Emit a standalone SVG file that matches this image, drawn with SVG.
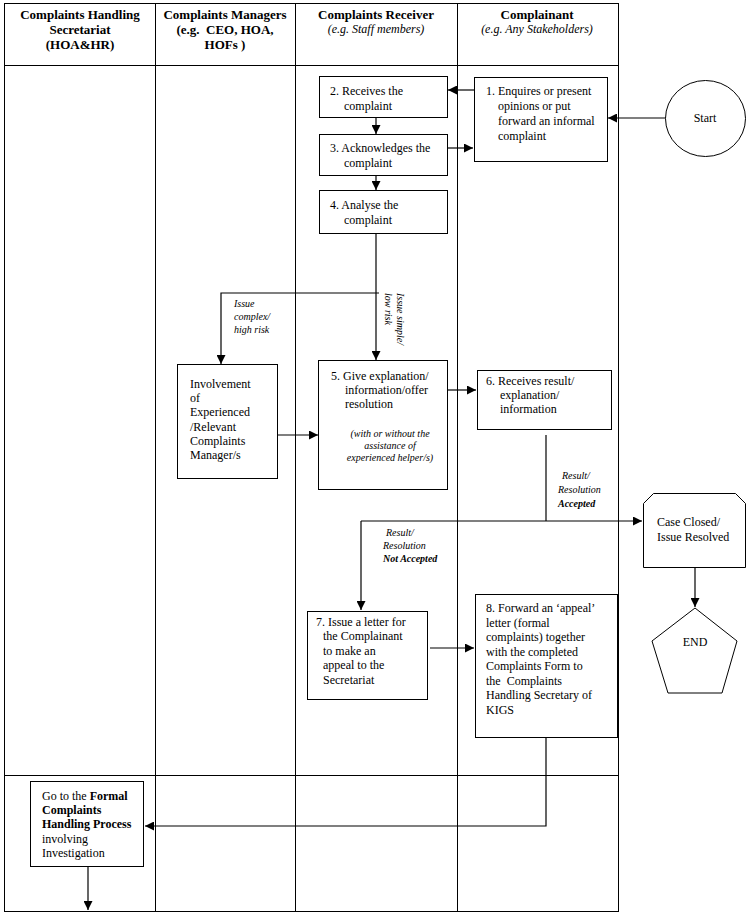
<svg xmlns="http://www.w3.org/2000/svg" width="755" height="917" viewBox="0 0 755 917">
<defs>
<marker id="ah" viewBox="0 0 10 10" refX="10" refY="5" markerWidth="9" markerHeight="9" markerUnits="userSpaceOnUse" orient="auto">
<path d="M0,0 L10,5 L0,10 Z" fill="#000"/>
</marker>
</defs>
<style>
text{font-family:'Liberation Serif','Times New Roman',serif;font-size:12px;fill:#000}
.h{font-weight:bold;font-size:13px;text-anchor:middle}
.hi{font-style:italic;font-size:12px;text-anchor:middle}
.lbl{font-style:italic;font-size:10px}
.box{fill:#fff;stroke:#000;stroke-width:1}
.grid{fill:none;stroke:#000;stroke-width:1}
.conn{fill:none;stroke:#000;stroke-width:1.2}
.arr{fill:none;stroke:#000;stroke-width:1.2;marker-end:url(#ah)}
</style>
<rect width="755" height="917" fill="#fff"/>
<g id="lanes">
<rect class="grid" x="4.5" y="3.5" width="614" height="908"/>
<line class="grid" x1="155.5" y1="3.5" x2="155.5" y2="911.5"/>
<line class="grid" x1="295.5" y1="3.5" x2="295.5" y2="911.5"/>
<line class="grid" x1="457.5" y1="3.5" x2="457.5" y2="911.5"/>
<line class="grid" x1="4.5" y1="65.5" x2="618.5" y2="65.5"/>
<line class="grid" x1="4.5" y1="775.5" x2="618.5" y2="775.5"/>
<text class="h" x="80" y="19">Complaints Handling</text>
<text class="h" x="80" y="34">Secretariat</text>
<text class="h" x="80" y="49">(HOA&amp;HR)</text>
<text class="h" x="225" y="19">Complaints Managers</text>
<text class="h" x="225" y="34" xml:space="preserve">(e.g.  CEO, HOA,</text>
<text class="h" x="225" y="49">HOFs )</text>
<text class="h" x="376" y="19">Complaints Receiver</text>
<text class="hi" x="376" y="33">(e.g. Staff members)</text>
<text class="h" x="537" y="19">Complainant</text>
<text class="hi" x="537" y="33">(e.g. Any Stakeholders)</text>
</g>
<g id="connectors">
<line class="arr" x1="666" y1="118" x2="608" y2="118"/>
<line class="arr" x1="474" y1="90" x2="448" y2="90"/>
<line class="arr" x1="376" y1="117" x2="376" y2="134"/>
<line class="arr" x1="447" y1="148" x2="473" y2="148"/>
<line class="arr" x1="376" y1="175" x2="376" y2="190"/>
<line class="arr" x1="376" y1="233" x2="376" y2="360"/>
<polyline class="arr" points="379,293 221,293 221,364"/>
<line class="arr" x1="277" y1="435" x2="318" y2="435"/>
<line class="arr" x1="447" y1="390" x2="476" y2="390"/>
<line class="conn" x1="546" y1="435" x2="546" y2="521"/>
<line class="arr" x1="361" y1="521" x2="642" y2="521"/>
<line class="arr" x1="361" y1="521" x2="361" y2="610"/>
<line class="arr" x1="695" y1="567" x2="695" y2="607"/>
<line class="arr" x1="430" y1="648" x2="474" y2="648"/>
<polyline class="arr" points="546,737 546,826 145,826"/>
<line class="arr" x1="88" y1="866" x2="88" y2="910"/>
<text class="lbl" x="234" y="307">Issue</text>
<text class="lbl" x="234" y="320">complex/</text>
<text class="lbl" x="234" y="333">high risk</text>
<text class="lbl" transform="translate(397,293) rotate(90)">Issue simple/</text>
<text class="lbl" transform="translate(385,293) rotate(90)">low risk</text>
<text class="lbl" x="562" y="479">Result/</text>
<text class="lbl" x="558" y="493">Resolution</text>
<text class="lbl" x="558" y="507" font-weight="bold">Accepted</text>
<text class="lbl" x="386" y="536">Result/</text>
<text class="lbl" x="383" y="549">Resolution</text>
<text class="lbl" x="383" y="562" font-weight="bold">Not Accepted</text>
</g>
<g id="start">
<ellipse class="box" cx="705.5" cy="118.5" rx="40" ry="38"/>
<text x="705" y="122" text-anchor="middle">Start</text>
</g>
<g id="step1">
<rect class="box" x="474.5" y="77.5" width="133" height="84"/>
<text x="486" y="95">1. Enquires or present</text>
<text x="498" y="110">opinions or put</text>
<text x="498" y="125">forward an informal</text>
<text x="498" y="140">complaint</text>
</g>
<g id="step2">
<rect class="box" x="319.5" y="76.5" width="128" height="41"/>
<text x="330" y="95">2. Receives the</text>
<text x="344" y="110">complaint</text>
</g>
<g id="step3">
<rect class="box" x="319.5" y="134.5" width="128" height="41"/>
<text x="330" y="152">3. Acknowledges the</text>
<text x="344" y="167">complaint</text>
</g>
<g id="step4">
<rect class="box" x="319.5" y="190.5" width="128" height="43"/>
<text x="330" y="209">4. Analyse the</text>
<text x="344" y="224">complaint</text>
</g>
<g id="involvement">
<rect class="box" x="177.5" y="364.5" width="100" height="114"/>
<text x="190" y="388" font-size="12.5">Involvement</text>
<text x="190" y="402" font-size="12.5">of</text>
<text x="190" y="416" font-size="12.5">Experienced</text>
<text x="190" y="431" font-size="12.5">/Relevant</text>
<text x="190" y="445" font-size="12.5">Complaints</text>
<text x="190" y="459" font-size="12.5">Manager/s</text>
</g>
<g id="step5">
<rect class="box" x="318.5" y="360.5" width="129" height="129"/>
<text x="331" y="380">5. Give explanation/</text>
<text x="345" y="394">information/offer</text>
<text x="345" y="408">resolution</text>
<text class="lbl" x="390" y="437" text-anchor="middle">(with or without the</text>
<text class="lbl" x="390" y="449" text-anchor="middle">assistance of</text>
<text class="lbl" x="390" y="461" text-anchor="middle">experienced helper/s)</text>
</g>
<g id="step6">
<rect class="box" x="477.5" y="370.5" width="134" height="59"/>
<text x="486" y="385">6. Receives result/</text>
<text x="500" y="399">explanation/</text>
<text x="500" y="413">information</text>
</g>
<g id="closed">
<polygon class="box" points="653.5,493.5 735.5,493.5 745.5,503.5 745.5,567.5 643.5,567.5 643.5,503.5"/>
<text x="657" y="526">Case Closed/</text>
<text x="657" y="541">Issue Resolved</text>
</g>
<g id="end">
<polygon class="box" points="695,608 737,641 722,693 668,693 652,641"/>
<text x="695" y="646" text-anchor="middle" font-size="13">END</text>
</g>
<g id="step7">
<rect class="box" x="307.5" y="611.5" width="120" height="88"/>
<text x="316" y="626">7. Issue a letter for</text>
<text x="323" y="640">the Complainant</text>
<text x="323" y="655">to make an</text>
<text x="323" y="669">appeal to the</text>
<text x="323" y="684">Secretariat</text>
</g>
<g id="step8">
<rect class="box" x="475.5" y="594.5" width="142" height="143"/>
<text x="486" y="612">8. Forward an ‘appeal’</text>
<text x="486" y="627">letter (formal</text>
<text x="486" y="641">complaints) together</text>
<text x="486" y="656">with the completed</text>
<text x="486" y="670">Complaints Form to</text>
<text x="486" y="685" xml:space="preserve">the  Complaints</text>
<text x="486" y="699">Handling Secretary of</text>
<text x="486" y="714">KIGS</text>
</g>
<g id="formal">
<rect class="box" x="30.5" y="781.5" width="113" height="85"/>
<text x="42" y="800">Go to the <tspan font-weight="bold">Formal</tspan></text>
<text x="42" y="814" font-weight="bold">Complaints</text>
<text x="42" y="828"><tspan font-weight="bold">Handling Process</tspan></text>
<text x="42" y="843">involving</text>
<text x="42" y="857">Investigation</text>
</g>
</svg>
